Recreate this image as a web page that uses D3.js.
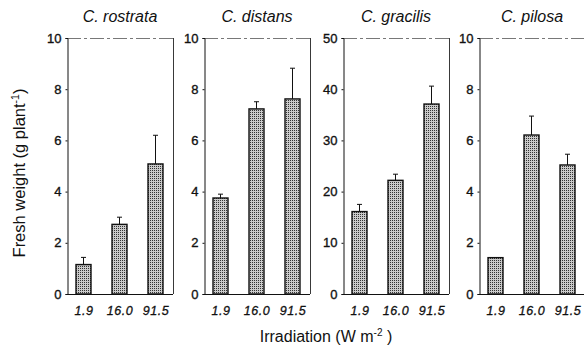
<!DOCTYPE html>
<html><head><meta charset="utf-8">
<script src="https://cdn.jsdelivr.net/npm/d3@7"></script>
<style>body{margin:0;background:#fff}svg{display:block;font-family:"Liberation Sans",Arial,sans-serif}</style>
</head><body>
<svg id="c" width="584" height="349"></svg>
<script>
const categories = ["1.9", "16.0", "91.5"];
const species = ["C. rostrata", "C. distans", "C. gracilis", "C. pilosa"];
const yMaxes = [10, 10, 50, 10];
const yTicks10 = [0, 2, 4, 6, 8, 10];
const yTicks50 = [0, 10, 20, 30, 40, 50];
const rostrata = [1.15, 2.72, 5.08];
const rostrataSE = [0.28, 0.28, 1.12];
const distans = [3.75, 7.23, 7.62];
const distansSE = [0.15, 0.28, 1.2];
const gracilis = [16.1, 22.2, 37.1];
const gracilisSE = [1.4, 1.2, 3.5];
const pilosa = [1.42, 6.21, 5.04];
const pilosaSE = [0, 0.74, 0.42];

const values = [rostrata, distans, gracilis, pilosa];
const errors = [rostrataSE, distansSE, gracilisSE, pilosaSE];
const ticks = [yTicks10, yTicks10, yTicks50, yTicks10];

const svg = d3.select("#c");
const defs = svg.append("defs");
const pat = defs.append("pattern").attr("id", "stip").attr("width", 2).attr("height", 2).attr("patternUnits", "userSpaceOnUse");
pat.append("rect").attr("width", 2).attr("height", 2).attr("fill", "#cacaca");
pat.append("rect").attr("width", 1).attr("height", 1).attr("fill", "#333");

const lefts = [67, 204, 343, 479];
const pw = 106, plotTop = 38, plotBottom = 294;
const ink = "#111";

species.forEach((sp, i) => {
  const x0 = lefts[i];
  const g = svg.append("g");
  const x = d3.scalePoint().domain(categories).range([x0 + 16.5, x0 + 88.5]);
  const y = d3.scaleLinear().domain([0, yMaxes[i]]).range([plotBottom, plotTop]);
  const bw = 15;

  g.append("line").attr("x1", x0).attr("x2", x0 + pw).attr("y1", plotTop + 0.5).attr("y2", plotTop + 0.5)
    .attr("stroke", "#555").attr("stroke-width", 0.8).attr("stroke-dasharray", "14,3,3,3");
  g.append("line").attr("x1", x0 + pw + 0.5).attr("x2", x0 + pw + 0.5).attr("y1", plotTop).attr("y2", plotBottom)
    .attr("stroke", "#222").attr("stroke-width", 0.9);

  const ya = g.append("g").attr("transform", `translate(${x0 + 0.5},0)`)
    .call(d3.axisLeft(y).tickValues(ticks[i]).tickSize(2).tickPadding(4).tickFormat(d3.format("d")));
  ya.select(".domain").attr("stroke", ink);
  ya.selectAll(".tick line").attr("stroke", ink);
  ya.selectAll("text").attr("font-size", 13).attr("fill", ink).attr("stroke", ink).attr("stroke-width", 0.35)
    .attr("font-family", "'Liberation Sans',Arial,sans-serif");

  const xa = g.append("g").attr("transform", `translate(0,${plotBottom + 0.5})`)
    .call(d3.axisBottom(x).tickSize(0).tickPadding(12));
  xa.select(".domain").attr("d", `M${x0},0H${x0 + pw}`).attr("stroke", ink);
  xa.selectAll("text").attr("font-size", 12.5).attr("font-style", "italic").attr("fill", ink)
    .attr("stroke", ink).attr("stroke-width", 0.3).attr("letter-spacing", 0.5)
    .attr("font-family", "'Liberation Sans',Arial,sans-serif");

  const data = categories.map((c, k) => ({ c, v: values[i][k], e: errors[i][k] }));

  g.selectAll(".err").data(data.filter(d => d.e > 0)).enter().append("path")
    .attr("d", d => `M${x(d.c)},${y(d.v)}V${y(d.v + d.e)}M${x(d.c) - 2.5},${y(d.v + d.e)}H${x(d.c) + 2.5}`)
    .attr("stroke", ink).attr("stroke-width", 1).attr("fill", "none");

  g.selectAll(".bar").data(data).enter().append("rect")
    .attr("x", d => x(d.c) - bw / 2).attr("width", bw)
    .attr("y", d => y(d.v)).attr("height", d => plotBottom - y(d.v))
    .attr("fill", "url(#stip)").attr("stroke", ink).attr("stroke-width", 1.4);

  svg.append("text").attr("x", x0 + pw / 2).attr("y", 22).attr("text-anchor", "middle")
    .attr("font-size", 16).attr("font-style", "italic").attr("fill", ink).text(sp);
});

svg.append("text").attr("transform", "translate(25,173) rotate(-90)").attr("text-anchor", "middle")
  .attr("font-size", 16.5).attr("fill", ink)
  .html('Fresh weight (g plant<tspan dy="-6" font-size="10.5">-1</tspan><tspan dy="6">)</tspan>');

svg.append("text").attr("x", 326).attr("y", 342).attr("text-anchor", "middle")
  .attr("font-size", 16).attr("fill", ink)
  .html('Irradiation (W m<tspan dy="-6" font-size="10">-2</tspan><tspan dy="6"> )</tspan>');
</script>
</body></html>
